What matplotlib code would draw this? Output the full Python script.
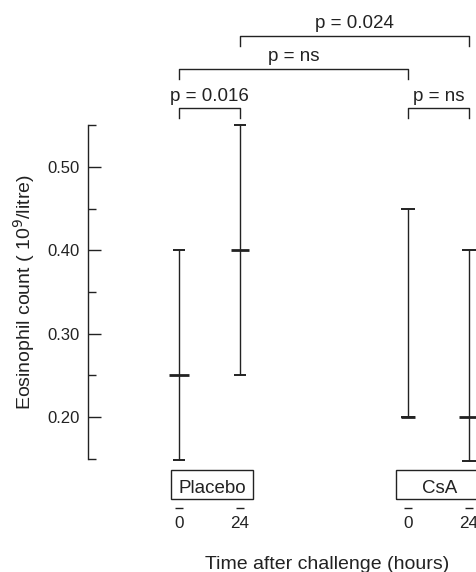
import matplotlib
matplotlib.use("Agg")
import matplotlib.pyplot as plt
from matplotlib.patches import Rectangle

plt.rcParams['font.family'] = ['Liberation Sans', 'DejaVu Sans']
plt.rcParams['font.size'] = 13.5

# data: eosinophil counts (10^9/litre)
groups = ['Placebo', 'CsA']
times = ['0', '24']
medians = [0.25, 0.40, 0.20, 0.20]
lows = [0.148, 0.25, 0.20, 0.147]
highs = [0.40, 0.55, 0.45, 0.40]
p_labels = ['p = 0.016', 'p = ns', 'p = ns', 'p = 0.024']

# layout
xpos = [0, 1, 3.754, 4.754]
ink = '#222222'

fig = plt.figure(figsize=(4.77, 5.72), dpi=100)
ax = fig.add_axes([0, 0, 1, 1])
ax.set_xlim(-179 / 61, 298 / 61)
ax.set_ylim(0.50 - 405 / 833, 0.50 + 167 / 833)
ax.patch.set_visible(False)

for s in ['top', 'right', 'bottom']:
    ax.spines[s].set_visible(False)
ax.spines['left'].set_position(('data', -91 / 61))
ax.spines['left'].set_bounds(0.15, 0.55)
ax.spines['left'].set_color(ink)
ax.spines['left'].set_linewidth(1)
ax.set_xticks([])
ax.set_yticks([0.20, 0.30, 0.40, 0.50])
ax.set_yticklabels(['0.20', '0.30', '0.40', '0.50'])
ax.set_yticks([0.15, 0.25, 0.35, 0.45, 0.55], minor=True)
ax.tick_params(axis='y', which='major', direction='in', length=9.5, width=1,
               color=ink, pad=6, labelsize=12, labelcolor=ink)
ax.tick_params(axis='y', which='minor', direction='in', length=5.5, width=1,
               color=ink)

# range bars with median marks
cap_w = [0.1, 0.1, 0.12, 0.11]
med_w = [0.165, 0.155, 0.12, 0.165]
for x, lo, hi, med, cw, mw in zip(xpos, lows, highs, medians, cap_w, med_w):
    ax.vlines(x, lo, hi, color=ink, lw=1)
    ax.hlines([lo, hi], x - cw, x + cw, color=ink, lw=1.4)
    ax.hlines(med, x - mw, x + mw, color=ink, lw=2)

# significance brackets
brackets = [(xpos[0], xpos[1], 0.5705), (xpos[2], xpos[3], 0.5705),
            (xpos[0], xpos[2], 0.6176), (xpos[1], xpos[3], 0.6576)]
text_base = [0.5792, 0.5792, 0.6273, 0.6665]
for (x1, x2, y), yt, lab in zip(brackets, text_base, p_labels):
    ax.plot([x1, x1, x2, x2], [y - 0.0118, y, y, y - 0.0118], color=ink,
            lw=1, clip_on=False)
    ax.text((x1 + x2) / 2, yt, lab, ha='center', va='baseline',
            color=ink, fontsize=13.5)

# group boxes
boxes = [(-0.136, 1.218), (3.557, 4.98)]
for (bx1, bx2), g in zip(boxes, groups):
    ax.add_patch(Rectangle((bx1, 0.1014), bx2 - bx1, 0.0343, fill=False,
                           ec=ink, lw=1, clip_on=False))
    ax.text((bx1 + bx2) / 2, 0.109, g, ha='center', va='baseline',
            color=ink, fontsize=13.5)

# time labels with small bars above
for i, x in enumerate(xpos):
    ax.hlines(0.0903, x - 0.07, x + 0.07, color=ink, lw=1)
    ax.text(x, 0.0662, times[i % 2], ha='center', va='baseline', color=ink,
            fontsize=12.3)

ax.text(2.426, 0.0174, 'Time after challenge (hours)', ha='center',
        va='baseline', color=ink, fontsize=14)
ax.text(-2.54, 0.350, 'Eosinophil count ( 10$^9$/litre)', ha='center',
        va='center', rotation=90, color=ink, fontsize=14)

fig.savefig('out.png', dpi=100)
